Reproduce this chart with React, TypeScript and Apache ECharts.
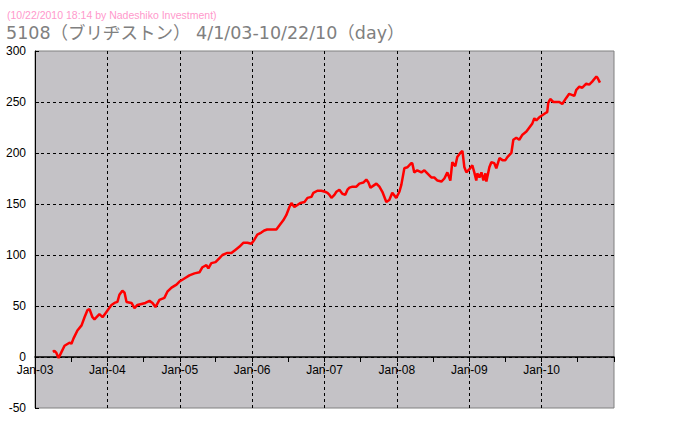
import React, { useEffect, useRef } from "react";
import * as echarts from "echarts";

const subtitleText = "(10/22/2010 18:14 by Nadeshiko Investment)";
const titleText = "5108（ブリヂストン） 4/1/03-10/22/10（day）";
const monthNames = ["Jan", "Feb", "Mar", "Apr", "May", "Jun", "Jul", "Aug", "Sep", "Oct", "Nov", "Dec"];
const yTicks = { min: -50, max: 300, interval: 50 };
const xRange = { min: "2003-01-01", max: "2011-01-01" };

const dates = [
  "2003-04-01", "2003-04-09", "2003-04-19", "2003-04-30", "2003-05-15", "2003-05-30", "2003-06-24", "2003-07-04",
  "2003-07-14", "2003-08-03", "2003-08-24", "2003-09-08", "2003-09-23", "2003-10-03", "2003-10-18", "2003-10-28",
  "2003-11-22", "2003-12-08", "2003-12-23", "2004-01-07", "2004-01-22", "2004-02-06", "2004-02-21", "2004-03-02",
  "2004-03-17", "2004-03-28", "2004-04-07", "2004-05-02", "2004-05-17", "2004-06-01", "2004-06-21", "2004-07-11",
  "2004-08-01", "2004-08-16", "2004-08-31", "2004-09-20", "2004-10-15", "2004-10-30", "2004-11-20", "2004-12-15",
  "2004-12-30", "2005-01-24", "2005-02-18", "2005-03-16", "2005-04-10", "2005-04-25", "2005-05-15", "2005-05-25",
  "2005-06-09", "2005-06-30", "2005-07-20", "2005-08-04", "2005-08-29", "2005-09-18", "2005-10-08", "2005-10-28",
  "2005-11-17", "2005-12-08", "2005-12-28", "2006-01-12", "2006-01-27", "2006-02-16", "2006-03-03", "2006-03-18",
  "2006-04-08", "2006-05-03", "2006-05-18", "2006-06-07", "2006-06-22", "2006-07-08", "2006-07-18", "2006-08-02",
  "2006-08-17", "2006-09-01", "2006-09-22", "2006-10-07", "2006-10-27", "2006-11-06", "2006-11-26", "2006-12-16",
  "2007-01-04", "2007-01-16", "2007-01-26", "2007-02-05", "2007-02-20", "2007-03-02", "2007-03-17", "2007-04-01",
  "2007-04-16", "2007-04-27", "2007-05-07", "2007-05-22", "2007-06-11", "2007-06-26", "2007-07-16", "2007-07-31",
  "2007-08-11", "2007-08-21", "2007-09-05", "2007-09-20", "2007-10-05", "2007-10-20", "2007-11-09", "2007-11-24",
  "2007-12-09", "2007-12-29", "2008-01-14", "2008-01-24", "2008-02-08", "2008-02-23", "2008-03-14", "2008-03-19",
  "2008-03-29", "2008-04-13", "2008-05-04", "2008-05-19", "2008-06-03", "2008-06-23", "2008-07-08", "2008-07-24",
  "2008-08-13", "2008-08-28", "2008-09-12", "2008-09-27", "2008-10-07", "2008-10-22", "2008-11-01", "2008-11-16",
  "2008-11-27", "2008-12-07", "2008-12-17", "2009-01-05", "2009-01-16", "2009-01-26", "2009-02-05", "2009-02-10",
  "2009-02-21", "2009-03-03", "2009-03-13", "2009-03-23", "2009-03-28", "2009-04-12", "2009-04-22", "2009-05-07",
  "2009-05-17", "2009-06-02", "2009-06-17", "2009-07-02", "2009-07-12", "2009-08-01", "2009-08-11", "2009-08-26",
  "2009-09-10", "2009-09-26", "2009-10-16", "2009-10-31", "2009-11-15", "2009-11-25", "2009-12-05", "2009-12-20",
  "2010-01-04", "2010-01-19", "2010-01-29", "2010-02-03", "2010-02-13", "2010-03-01", "2010-03-16", "2010-03-31",
  "2010-04-15", "2010-05-05", "2010-05-20", "2010-06-15", "2010-06-25", "2010-07-10", "2010-07-25", "2010-08-14",
  "2010-08-29", "2010-09-13", "2010-10-04", "2010-10-09", "2010-10-22",
];

const values = [
  5, 6, 4, -1, 5, 11, 14, 13,
  18, 26, 31, 39, 46, 47, 39, 37,
  42, 39, 43, 47, 51, 53, 54, 61,
  65, 63, 54, 53, 48, 51, 52, 53,
  55, 53, 49, 56, 58, 64, 68, 71,
  74, 77, 80, 82, 83, 88, 90, 87,
  92, 93, 97, 100, 102, 102, 105, 108,
  112, 112, 111, 115, 120, 122, 124, 125,
  125, 125, 129, 134, 139, 147, 151, 147,
  149, 151, 152, 156, 157, 161, 163, 163,
  162, 161, 159, 156, 159, 162, 164, 160,
  159, 164, 166, 167, 167, 170, 171, 174,
  171, 166, 168, 170, 167, 162, 152, 154,
  161, 156, 162, 169, 185, 186, 190, 190,
  181, 183, 181, 183, 180, 176, 176, 173,
  172, 175, 181, 173, 191, 187, 196, 200,
  202, 186, 181, 185, 188, 181, 173, 180,
  176, 181, 173, 180, 172, 186, 191, 190,
  185, 195, 193, 193, 196, 200, 213, 215,
  213, 218, 221, 225, 229, 234, 232, 235,
  237, 239, 240, 249, 253, 250, 250, 250,
  248, 254, 258, 256, 262, 265, 264, 268,
  267, 270, 275, 274, 269,
];

const DAY = 86400000;

export default function App() {
  const ref = useRef<HTMLDivElement>(null);
  useEffect(() => {
    if (!ref.current) return;
    const chart = echarts.init(ref.current, null, { renderer: "svg" });
    const labelFont = "'Liberation Sans', Arial, sans-serif";
    chart.setOption({
      animation: false,
      backgroundColor: "#FFFFFF",
      title: [
        {
          text: subtitleText,
          left: 7,
          top: 9,
          padding: 0,
          textStyle: { color: "#FF99CC", fontSize: 10.5, fontWeight: "normal", fontFamily: labelFont },
        },
        {
          text: titleText,
          left: 6,
          top: 23,
          padding: 0,
          textStyle: {
            color: "#808080",
            fontSize: 17.5,
            lineHeight: 20,
            fontWeight: "normal",
            fontFamily: "'DejaVu Sans', 'Noto Sans CJK JP', sans-serif",
          },
        },
      ],
      grid: {
        left: 35,
        right: 76,
        top: 51,
        bottom: 14,
        show: true,
        outerBoundsMode: "none",
        containLabel: false,
        backgroundColor: "#C4C2C6",
        borderColor: "#808080",
        borderWidth: 1,
      },
      xAxis: [
        {
          type: "time",
          min: xRange.min,
          max: xRange.max,
          minInterval: 365 * DAY,
          maxInterval: 366 * DAY,
          axisLine: { show: true, onZero: true, lineStyle: { color: "#000000", width: 1.5 } },
          axisTick: { show: false },
          axisLabel: {
            color: "#000000",
            fontSize: 12,
            fontFamily: labelFont,
            margin: -44,
            showMaxLabel: false,
            formatter: (v: number) => {
              const d = new Date(v);
              return monthNames[d.getMonth()] + "-" + String(d.getFullYear()).slice(2);
            },
          },
          splitLine: {
            show: true,
            showMinLine: false,
            showMaxLine: false,
            lineStyle: { color: "#000000", type: [3, 3], width: 1 },
          },
          z: 3,
        },
        {
          type: "time",
          position: "bottom",
          offset: -51,
          min: xRange.min,
          max: xRange.max,
          minInterval: 181 * DAY,
          maxInterval: 185 * DAY,
          axisLine: { show: false, onZero: false },
          axisTick: { show: true, inside: false, length: 5, lineStyle: { color: "#000000", width: 1 } },
          axisLabel: { show: false },
          splitLine: { show: false },
        },
      ],
      yAxis: {
        type: "value",
        min: yTicks.min,
        max: yTicks.max,
        interval: yTicks.interval,
        axisLine: { show: true, onZero: false, lineStyle: { color: "#000000", width: 1 } },
        axisTick: { show: true, inside: true, length: 4, lineStyle: { color: "#000000" } },
        axisLabel: { color: "#000000", fontSize: 12, fontFamily: labelFont, margin: 9 },
        splitLine: {
          show: true,
          showMinLine: false,
          showMaxLine: false,
          lineStyle: { color: "#000000", type: [3, 3], width: 1 },
        },
      },
      series: [
        {
          type: "line",
          xAxisIndex: 0,
          data: dates.map((d, i) => [d, values[i]]),
          showSymbol: false,
          lineStyle: { color: "#FF0000", width: 2.5 },
          itemStyle: { color: "#FF0000" },
        },
      ],
    });
    return () => chart.dispose();
  }, []);
  return (
    <div
      ref={ref}
      style={{ position: "fixed", left: 0, top: 0, width: 690, height: 422 }}
    />
  );
}
